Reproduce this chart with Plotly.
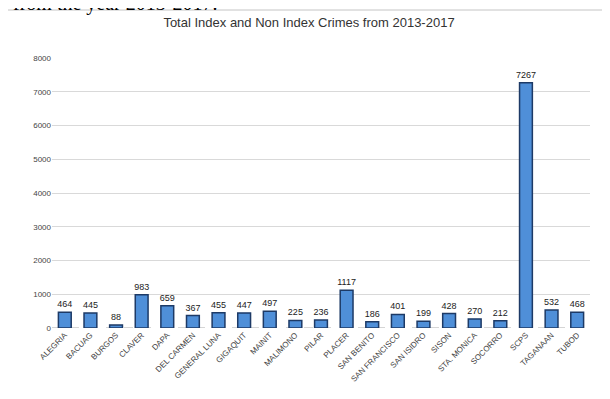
import plotly.graph_objects as go

categories = ["ALEGRIA", "BACUAG", "BURGOS", "CLAVER", "DAPA", "DEL CARMEN", "GENERAL LUNA",
              "GIGAQUIT", "MAINIT", "MALIMONO", "PILAR", "PLACER", "SAN BENITO", "SAN FRANCISCO",
              "SAN ISIDRO", "SISON", "STA. MONICA", "SOCORRO", "SCPS", "TAGANAAN", "TUBOD"]
values = [464, 445, 88, 983, 659, 367, 455, 447, 497, 225, 236, 1117, 186, 401, 199, 428,
          270, 212, 7267, 532, 468]
y_ticks = [0, 1000, 2000, 3000, 4000, 5000, 6000, 7000, 8000]

W, H = 602, 391
T, B, L, R = 50, 71, 44, 20
PH = H - T - B
PW = W - L - R

fig = go.Figure()
fig.add_trace(go.Bar(
    x=categories, y=values,
    marker=dict(color="#4f8fd8", line=dict(color="#1d3a66", width=1.5)),
    text=[str(v) for v in values], textposition="outside", textangle=0,
    constraintext="none",
    textfont=dict(size=9, color="#222", family="Liberation Sans"),
    cliponaxis=False,
))

fig.update_layout(
    width=W, height=H,
    margin=dict(l=L, r=R, t=T, b=B),
    paper_bgcolor="white", plot_bgcolor="white",
    bargap=0.5,
    showlegend=False,
    title=dict(text="Total Index and Non Index Crimes from 2013-2017", x=0.5, xanchor="center",
               y=1 - 14 / H, yanchor="middle",
               font=dict(family="Liberation Sans", size=13, color="#333")),
    xaxis=dict(tickangle=-45, tickfont=dict(size=8, color="#444", family="Liberation Sans"),
               showline=False, showgrid=False, ticks=""),
    yaxis=dict(range=[0, 8000], tickvals=y_ticks, showgrid=True, gridcolor="#d9d9d9",
               gridwidth=1, zeroline=False, ticks="", ticklen=0,
               tickfont=dict(size=8, color="#444", family="Liberation Sans")),
)
fig.add_annotation(text="from the year 2013-2017.", xref="paper", yref="paper",
                   x=-L / PW + 0.005, y=1 + (T - 9) / PH, xanchor="left", yanchor="bottom",
                   showarrow=False, font=dict(family="Liberation Serif", size=20, color="#000"))
fig.add_shape(type="line", xref="paper", yref="paper", x0=-L / PW, x1=1 + R / PW,
              y0=1 + (T - 2) / PH, y1=1 + (T - 2) / PH,
              line=dict(color="#c4c4c4", width=1))
fig.add_shape(type="line", xref="paper", yref="y", x0=0, x1=1, y0=0, y1=0, layer="below",
              line=dict(color="#c8c8c8", width=1.5, dash="dash"))
fig.write_html("out.html")
